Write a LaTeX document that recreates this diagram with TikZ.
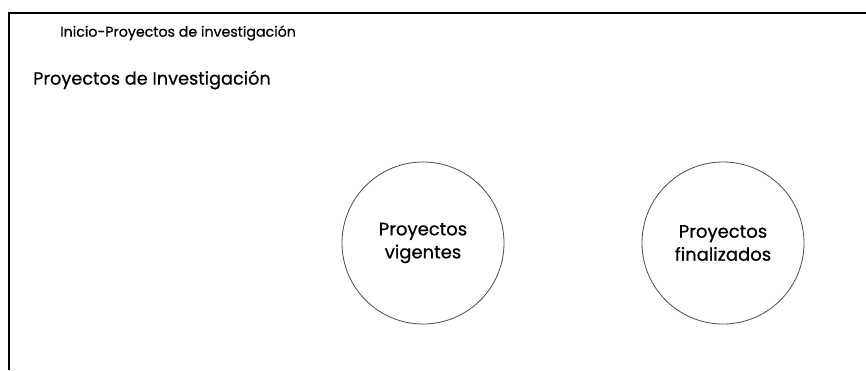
\documentclass[tikz,border=0pt]{standalone}
\usepackage{fontspec}
\setmainfont{Poppins}[FakeBold=0.6]
\begin{document}
\begin{tikzpicture}[x=1pt,y=-1pt,
  frame/.style={line width=2pt, draw=black},
  bubble/.style={circle, draw=black!70, line width=0.8pt, minimum size=162pt, inner sep=0pt, align=center, font=\fontsize{18}{23}\selectfont},
  crumb/.style={anchor=west, inner sep=0pt, font=\fontsize{14.2}{16}\selectfont},
  heading/.style={anchor=west, inner sep=0pt, font=\fontsize{17.7}{20}\selectfont}]
\useasboundingbox (0,0) rectangle (866,370);
\draw[frame] (8.5,370) -- (8.5,12.5) -- (866,12.5);
\node[crumb] (crumb) at (60,33) {Inicio-Proyectos de investigación};
\node[heading] (title) at (33,80) {Proyectos de Investigación};
\node[bubble] (vig) at (423,243) {Proyectos\\vigentes};
\node[bubble] (fin) at (723,243) {Proyectos\\finalizados};
\end{tikzpicture}
\end{document}
